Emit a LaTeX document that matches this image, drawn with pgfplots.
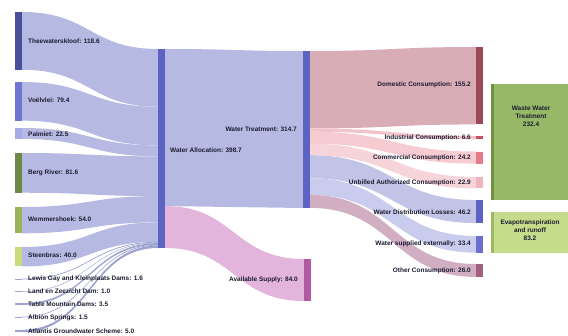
\documentclass[border=0pt]{standalone}
\usepackage{pgfplots}
\pgfplotsset{compat=1.18}
\usepackage{fontspec}
\setmainfont{Liberation Sans}

\definecolor{txt}{HTML}{1C1C30}
\definecolor{cThee}{HTML}{4A4F9A}
\definecolor{cVoel}{HTML}{6D76D2}
\definecolor{cPalm}{HTML}{A6ABE6}
\definecolor{cBerg}{HTML}{6B8A45}
\definecolor{cWemm}{HTML}{98B35A}
\definecolor{cSteen}{HTML}{C8DC7C}
\definecolor{cSmall}{HTML}{9DA2CF}
\definecolor{cNode}{HTML}{5C63C2}
\definecolor{fLav}{HTML}{B6BAE2}
\definecolor{fPink}{HTML}{E3B5DC}
\definecolor{cAvail}{HTML}{B35AA5}
\definecolor{fDom}{HTML}{D9ADB5}
\definecolor{cDom}{HTML}{9C4957}
\definecolor{fInd}{HTML}{F2BCC6}
\definecolor{cInd}{HTML}{C94F62}
\definecolor{fCom}{HTML}{F4C3CA}
\definecolor{cCom}{HTML}{E57A88}
\definecolor{fUnb}{HTML}{F6CDD2}
\definecolor{cUnb}{HTML}{F0B4BB}
\definecolor{fLoss}{HTML}{BABEE4}
\definecolor{fExt}{HTML}{C3C6EA}
\definecolor{cExt}{HTML}{6A6FD0}
\definecolor{fOth}{HTML}{CDA5BD}
\definecolor{cOth}{HTML}{A0607E}
\definecolor{gWW}{HTML}{97B967}
\definecolor{gWWe}{HTML}{6E9142}
\definecolor{gEv}{HTML}{C5DC8C}
\definecolor{gEve}{HTML}{9CB95E}

% xs, xm, a, b, xt, c, d, style
\newcommand{\flow}[8]{\fill[#8] (axis cs:#1,#3) .. controls (axis cs:#2,#3) and (axis cs:#2,#6) .. (axis cs:#5,#6) -- (axis cs:#5,#7) .. controls (axis cs:#2,#7) and (axis cs:#2,#4) .. (axis cs:#1,#4) -- cycle;}

\tikzset{lbl/.style={font=\fontsize{6.5}{7.8}\selectfont\bfseries, text=txt, inner sep=0pt}}

\begin{document}
\begin{tikzpicture}
\begin{axis}[width=568bp, height=336bp, scale only axis,
  xmin=0, xmax=568, ymin=0, ymax=336, y dir=reverse,
  hide axis, clip=false]

% ---- flows: sources -> Water Allocation
\flow{22}{90}{12}{69.75}{158}{49}{106.75}{fLav}
\flow{22}{90}{82}{120.66}{158}{106.75}{145.41}{fLav}
\flow{22}{90}{128}{138.96}{158}{145.41}{156.37}{fLav}
\flow{22}{90}{153}{192.73}{158}{156.37}{196.10}{fLav}
\flow{22}{90}{207}{233.29}{158}{196.10}{222.39}{fLav}
\flow{22}{90}{247}{266.48}{158}{222.39}{241.87}{fLav}
\flow{22}{90}{278.6}{279.4}{158}{241.87}{242.65}{cSmall}
\flow{22}{90}{291.3}{291.8}{158}{242.65}{243.14}{cSmall}
\flow{22}{90}{303.2}{304.9}{158}{243.14}{244.84}{cSmall}
\flow{22}{90}{316.6}{317.3}{158}{244.84}{245.57}{cSmall}
\flow{22}{90}{329.8}{332.2}{158}{245.57}{248.0}{cSmall}

% ---- Water Allocation -> Treatment / Available
\flow{165}{234}{49}{206.07}{303}{51}{208}{fLav}
\flow{165}{234}{206.07}{248}{304}{259}{301}{fPink}

% ---- Water Treatment -> uses
\flow{310}{393}{51}{128.43}{476}{47}{124.43}{fDom}
\flow{310}{393}{155.21}{178.26}{476}{200}{223.05}{fLoss,opacity=0.9}
\flow{310}{393}{178.26}{194.92}{476}{236}{252.66}{fExt,opacity=0.9}
\flow{310}{393}{194.92}{207.89}{476}{264}{276.97}{fOth,opacity=0.9}
\flow{310}{393}{128.43}{131.72}{476}{136}{139.29}{fInd,opacity=0.9}
\flow{310}{393}{131.72}{143.79}{476}{151.5}{163.57}{fCom,opacity=0.85}
\flow{310}{393}{143.79}{155.21}{476}{177}{188.42}{fUnb,opacity=0.85}

% ---- node bars (source column): values 118.6, 79.4, 22.5, 81.6, 54.0, 40.0, 1.6, 1.0, 3.5, 1.5, 5.0
\addplot[fill=cThee, draw=none] coordinates {(15,12) (22,12) (22,69.75) (15,69.75)};
\addplot[fill=cVoel, draw=none] coordinates {(15,82) (22,82) (22,120.66) (15,120.66)};
\addplot[fill=cPalm, draw=none] coordinates {(15,128) (22,128) (22,138.96) (15,138.96)};
\addplot[fill=cBerg, draw=none] coordinates {(15,153) (22,153) (22,192.73) (15,192.73)};
\addplot[fill=cWemm, draw=none] coordinates {(15,207) (22,207) (22,233.29) (15,233.29)};
\addplot[fill=cSteen, draw=none] coordinates {(15,247) (22,247) (22,266.48) (15,266.48)};
\addplot[fill=cSmall, draw=none] coordinates {(15,278.6) (22,278.6) (22,279.4) (15,279.4)};
\addplot[fill=cSmall, draw=none] coordinates {(15,291.3) (22,291.3) (22,291.8) (15,291.8)};
\addplot[fill=cSmall, draw=none] coordinates {(15,303.2) (22,303.2) (22,304.9) (15,304.9)};
\addplot[fill=cSmall, draw=none] coordinates {(15,316.6) (22,316.6) (22,317.3) (15,317.3)};
\addplot[fill=cSmall, draw=none] coordinates {(15,329.8) (22,329.8) (22,332.2) (15,332.2)};

% middle nodes: 398.7, 314.7, 84.0
\addplot[fill=cNode, draw=none] coordinates {(158,49) (165,49) (165,248) (158,248)};
\addplot[fill=cNode, draw=none] coordinates {(303,51) (310,51) (310,208) (303,208)};
\addplot[fill=cAvail, draw=none] coordinates {(304,259) (311,259) (311,301) (304,301)};

% use nodes: 155.2, 6.6, 24.2, 22.9, 46.2, 33.4, 26.0
\addplot[fill=cDom, draw=none] coordinates {(476,47) (483,47) (483,124.43) (476,124.43)};
\addplot[fill=cInd, draw=none] coordinates {(476,136) (483,136) (483,139.29) (476,139.29)};
\addplot[fill=cCom, draw=none] coordinates {(476,151.5) (483,151.5) (483,163.57) (476,163.57)};
\addplot[fill=cUnb, draw=none] coordinates {(476,177) (483,177) (483,188.42) (476,188.42)};
\addplot[fill=cNode, draw=none] coordinates {(476,200) (483,200) (483,223.05) (476,223.05)};
\addplot[fill=cExt, draw=none] coordinates {(476,236) (483,236) (483,252.66) (476,252.66)};
\addplot[fill=cOth, draw=none] coordinates {(476,264) (483,264) (483,276.97) (476,276.97)};

% final nodes: 232.4, 83.2
\addplot[fill=gWW, draw=none] coordinates {(491,84) (568,84) (568,200) (491,200)};
\addplot[fill=gWWe, draw=none] coordinates {(491,84) (494,84) (494,200) (491,200)};
\addplot[fill=gEv, draw=none] coordinates {(491,212) (568,212) (568,253) (491,253)};
\addplot[fill=gEve, draw=none] coordinates {(491,212) (494,212) (494,253) (491,253)};

% ---- labels
\node[lbl, anchor=west] at (axis cs:28,41) {Theewaterskloof: 118.6};
\node[lbl, anchor=west] at (axis cs:28,100) {Voëlvlei: 79.4};
\node[lbl, anchor=west] at (axis cs:28,134.5) {Palmiet: 22.5};
\node[lbl, anchor=west] at (axis cs:28,173) {Berg River: 81.6};
\node[lbl, anchor=west] at (axis cs:28,219.5) {Wemmershoek: 54.0};
\node[lbl, anchor=west] at (axis cs:28,255) {Steenbras: 40.0};
\node[lbl, anchor=west] at (axis cs:28,278.5) {Lewis Gay and Kleinplaats Dams: 1.6};
\node[lbl, anchor=west] at (axis cs:28,291.5) {Land en Zeezicht Dam: 1.0};
\node[lbl, anchor=west] at (axis cs:28,304.5) {Table Mountain Dams: 3.5};
\node[lbl, anchor=west] at (axis cs:28,317.5) {Albion Springs: 1.5};
\node[lbl, anchor=west] at (axis cs:28,331) {Atlantis Groundwater Scheme: 5.0};

\node[lbl, anchor=west] at (axis cs:170,150) {Water Allocation: 398.7};
\node[lbl, anchor=east] at (axis cs:297,129) {Water Treatment: 314.7};
\node[lbl, anchor=east] at (axis cs:298,280) {Available Supply: 84.0};

\node[lbl, anchor=east] at (axis cs:471,85) {Domestic Consumption: 155.2};
\node[lbl, anchor=east] at (axis cs:471,137.5) {Industrial Consumption: 6.6};
\node[lbl, anchor=east] at (axis cs:471,157.5) {Commercial Consumption: 24.2};
\node[lbl, anchor=east] at (axis cs:471,182.5) {Unbilled Authorized Consumption: 22.9};
\node[lbl, anchor=east] at (axis cs:471,212) {Water Distribution Losses: 46.2};
\node[lbl, anchor=east] at (axis cs:471,244) {Water supplied externally: 33.4};
\node[lbl, anchor=east] at (axis cs:471,270.5) {Other Consumption: 26.0};

\node[lbl, align=center, anchor=north] at (axis cs:531,106) {Waste Water\\Treatment\\232.4};
\node[lbl, align=center] at (axis cs:530,230) {Evapotranspiration\\and runoff\\83.2};
\end{axis}
\pgfresetboundingbox
\path (current axis.south west) rectangle (current axis.north east);
\end{tikzpicture}
\end{document}
